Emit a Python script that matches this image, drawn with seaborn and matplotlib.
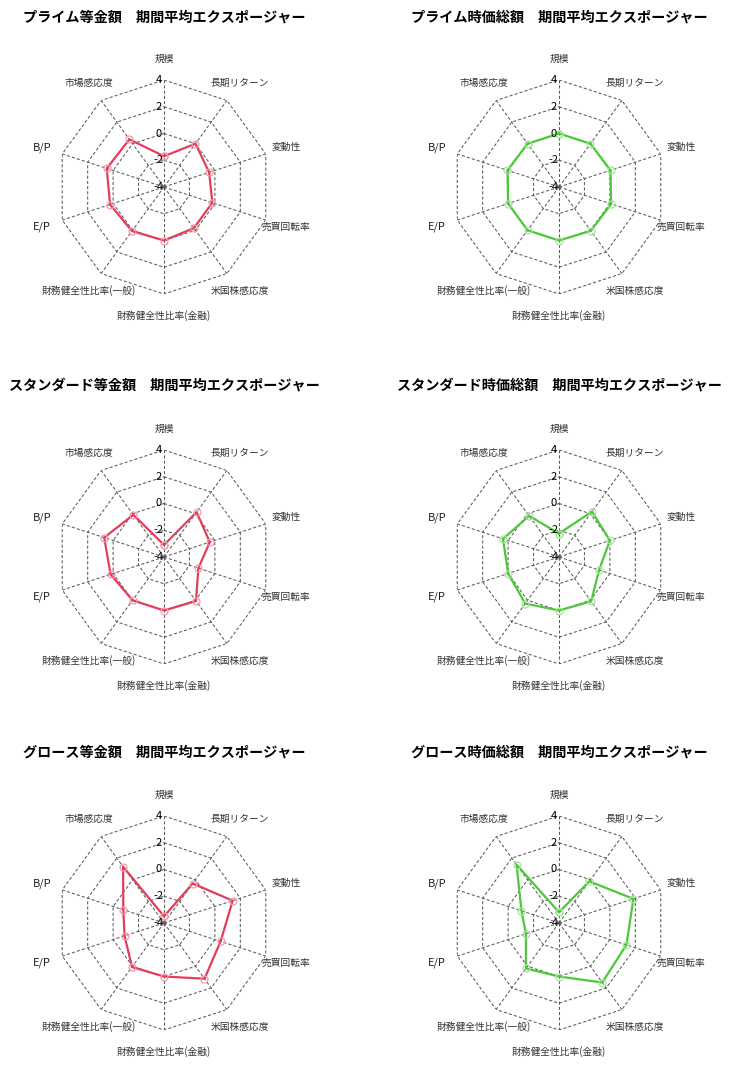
import numpy as np
import pandas as pd
import matplotlib
matplotlib.use("Agg")
import matplotlib.pyplot as plt
import matplotlib.transforms as mtransforms
import seaborn as sns

# 軸ラベル (時計回り、上から)
factors = ["規模", "長期リターン", "変動性", "売買回転率", "米国株感応度",
           "財務健全性比率(金融)", "財務健全性比率(一般)", "E/P", "B/P", "市場感応度"]

# 各ポートフォリオの期間平均エクスポージャー
prime_eq = [-1.7, 0.0, -0.45, -0.2, -0.2, 0.0, 0.07, 0.24, 0.5, 0.4]
prime_cap = [0.0, 0.0, 0.05, 0.1, 0.05, 0.0, 0.0, 0.0, 0.05, 0.0]
std_eq = [-3.1, 0.15, -0.4, -1.3, 0.07, 0.0, 0.0, 0.2, 0.7, -0.1]
std_cap = [-2.25, 0.2, 0.0, -0.85, 0.1, 0.0, 0.3, 0.0, 0.4, -0.2]
growth_eq = [-3.5, -0.35, 1.4, 0.45, 1.15, 0.0, 0.07, -0.9, -0.8, 1.2]
growth_cap = [-3.2, -0.15, 1.85, 1.3, 1.5, 0.0, 0.2, -1.4, -1.05, 1.4]

titles = ["プライム等金額　期間平均エクスポージャー", "プライム時価総額　期間平均エクスポージャー",
          "スタンダード等金額　期間平均エクスポージャー", "スタンダード時価総額　期間平均エクスポージャー",
          "グロース等金額　期間平均エクスポージャー", "グロース時価総額　期間平均エクスポージャー"]
series = [prime_eq, prime_cap, std_eq, std_cap, growth_eq, growth_cap]

tick_values = [-4, -2, 0, 2, 4]
r_min, r_max = -4, 4

red = "#E23D5B"
red_light = "#F29AAA"
green = "#4DC83A"
green_light = "#A6E39C"
grid_color = "#5a5a5a"

sns.set_theme(style="white")
plt.rcParams["font.family"] = ["Noto Sans CJK JP", "DejaVu Sans"]

W, H = 730, 1065
fig = plt.figure(figsize=(W / 100, H / 100), dpi=100)
fig.patch.set_facecolor("white")

centers_x = [164, 559]
centers_y = [187, 557, 923]
title_y = [18, 386, 753]
R = 107

n = len(factors)
theta = np.linspace(0, 2 * np.pi, n, endpoint=False)
theta_closed = np.append(theta, theta[0] + 2 * np.pi)

for i, (title, vals) in enumerate(zip(titles, series)):
    row, col = divmod(i, 2)
    cx, cy = centers_x[col], centers_y[row]
    ax = fig.add_axes([(cx - R) / W, 1 - (cy + R) / H, 2 * R / W, 2 * R / H],
                      projection="polar")
    ax.set_theta_zero_location("N")
    ax.set_theta_direction(-1)
    ax.set_ylim(r_min, r_max)
    ax.grid(False)
    ax.set_xticks([])
    ax.set_yticks([])
    ax.spines["polar"].set_visible(False)
    ax.set_facecolor("none")

    # 十角形のグリッドとスポーク
    for lv in tick_values[1:]:
        ax.plot(theta_closed, [lv] * (n + 1), color=grid_color, lw=0.75,
                ls=(0, (3, 2)), zorder=1)
    for t in theta:
        ax.plot([t, t], [r_min, r_max], color=grid_color, lw=0.75,
                ls=(0, (3, 2)), zorder=1)

    line_c, mark_c = (red, red_light) if col == 0 else (green, green_light)
    df = pd.DataFrame({"theta": theta_closed, "value": list(vals) + [vals[0]]})
    sns.lineplot(data=df, x="theta", y="value", ax=ax, sort=False, estimator=None,
                 color=line_c, lw=1.6, marker="o", markersize=5,
                 markerfacecolor="none", markeredgecolor=mark_c,
                 markeredgewidth=0.9, zorder=3)
    ax.set_xlabel("")
    ax.set_ylabel("")

    # 軸の目盛りラベル
    off = mtransforms.offset_copy(ax.transData, fig=fig, x=-5, y=0, units="dots")
    for tv in tick_values:
        ax.text(0, tv, str(tv), transform=off, ha="center", va="center",
                fontsize=8, color="black", zorder=4)

    # 軸名
    for t, lab in zip(theta, factors):
        fs = 8 if lab in ("E/P", "B/P") else 7
        ax.text(t, r_min + 1.2 * (r_max - r_min), lab, ha="center", va="center",
                fontsize=fs, color="#222222" if fs == 8 else "#333333")

    fig.text(cx / W, 1 - title_y[row] / H, title, ha="center", va="center",
             fontsize=10.2, fontweight="bold", color="black")

fig.savefig("out.png", dpi=100, facecolor="white")
